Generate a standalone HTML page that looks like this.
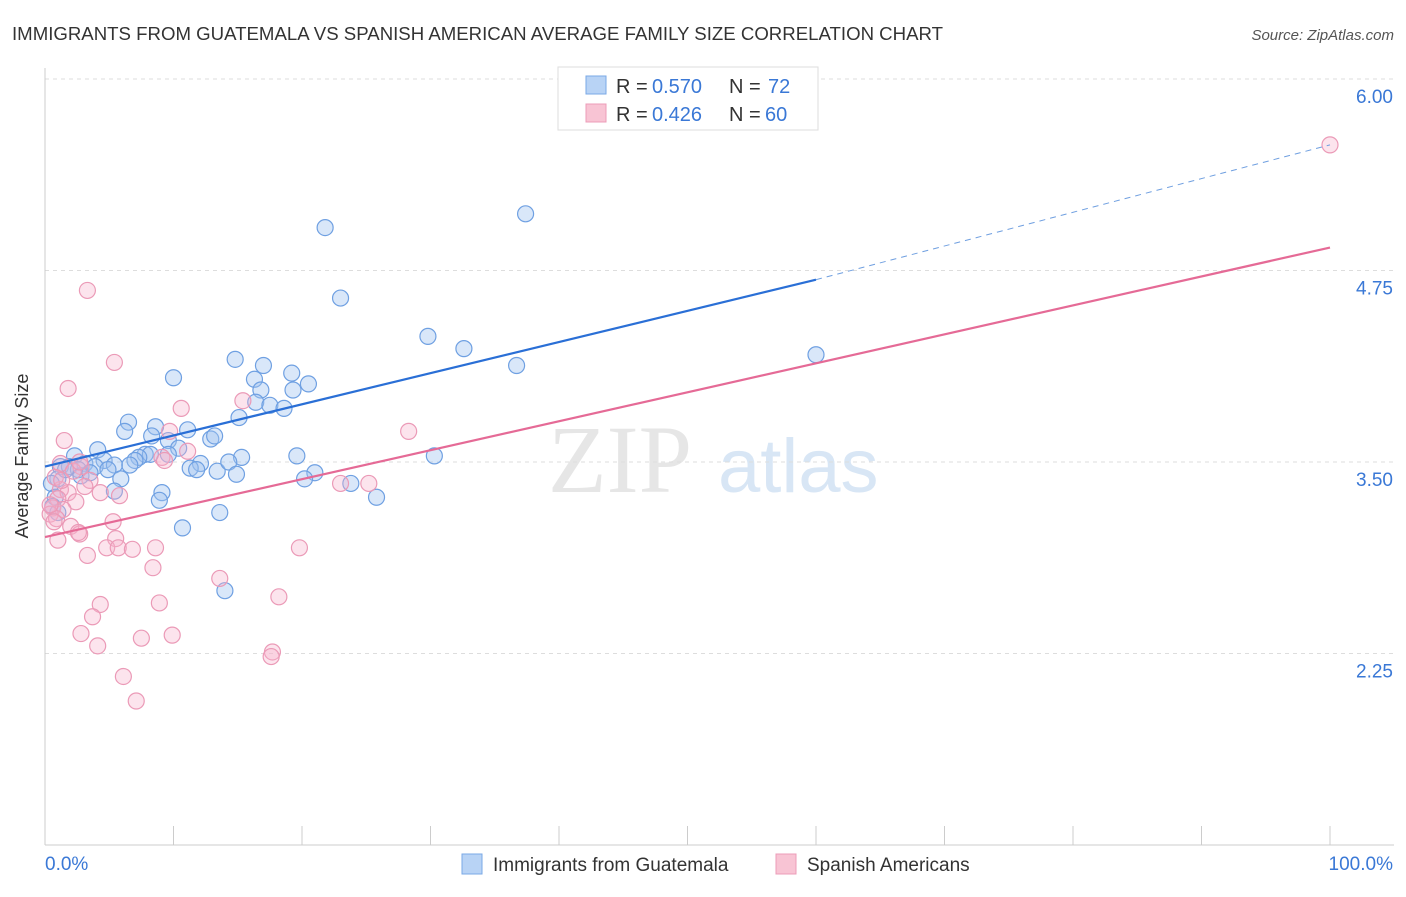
<!DOCTYPE html>
<html><head><meta charset="utf-8"><style>
body{margin:0;background:#fff;font-family:"Liberation Sans",sans-serif;}
svg text{font-family:"Liberation Sans",sans-serif;}
</style></head><body>
<svg id="chart" width="1406" height="892" xmlns="http://www.w3.org/2000/svg">
<text x="12" y="40" font-size="18" fill="#333" textLength="931" lengthAdjust="spacingAndGlyphs">IMMIGRANTS FROM GUATEMALA VS SPANISH AMERICAN AVERAGE FAMILY SIZE CORRELATION CHART</text>
<text x="1394" y="40" font-size="15" fill="#555" font-style="italic" text-anchor="end">Source: ZipAtlas.com</text>
<text x="692" y="492" font-size="96" fill="#e6e6e6" text-anchor="end" style="font-family:'Liberation Serif',serif">ZIP</text>
<text x="718" y="492" font-size="76" fill="#d8e6f5">atlas</text>
<g id="grid"></g>
<g id="axes"></g>
<g id="pts"></g>
<g id="trend"></g>
<text x="28" y="456" font-size="18" fill="#333" text-anchor="middle" transform="rotate(-90 28 456)">Average Family Size</text>
<g>
<rect x="558" y="67" width="260" height="63" fill="#fff" stroke="#ddd"/>
<rect x="586" y="76" width="20" height="18" fill="#b8d3f5" stroke="#7aa8e6"/>
<rect x="586" y="104" width="20" height="18" fill="#f8c4d4" stroke="#ec9cb8"/>
<text x="616" y="93" font-size="20" fill="#333">R =</text>
<text x="652" y="93" font-size="20" fill="#3a78d6">0.570</text>
<text x="729" y="93" font-size="20" fill="#333">N =</text>
<text x="768" y="93" font-size="20" fill="#3a78d6">72</text>
<text x="616" y="121" font-size="20" fill="#333">R =</text>
<text x="652" y="121" font-size="20" fill="#3a78d6">0.426</text>
<text x="729" y="121" font-size="20" fill="#333">N =</text>
<text x="765" y="121" font-size="20" fill="#3a78d6">60</text>
</g>
<g>
<rect x="462" y="854" width="20" height="20" fill="#b8d3f5" stroke="#7aa8e6"/>
<text x="493" y="871" font-size="19" fill="#333">Immigrants from Guatemala</text>
<rect x="776" y="854" width="20" height="20" fill="#f8c4d4" stroke="#ec9cb8"/>
<text x="807" y="871" font-size="19" fill="#333">Spanish Americans</text>
</g>
</svg>
<script>
const yTicks=[6.00,4.75,3.50,2.25];
const yTickLabels=["6.00","4.75","3.50","2.25"];
const xTickLabels=["0.0%","100.0%"];
const blueX=[37.4,21.8,23.0,29.8,32.6,36.7,60.0,14.8,17.0,10.0,16.3,19.2,16.8,19.3,20.5,16.4,17.5,18.6,15.1,6.5,8.6,6.2,11.1,8.3,12.9,13.2,9.6,4.1,10.4,19.6,30.3,2.3,4.6,7.8,8.2,7.3,9.6,7.0,15.3,12.1,5.4,3.1,1.2,1.9,2.6,3.9,6.6,11.3,11.8,13.4,14.3,14.9,21.0,20.2,23.8,25.8,2.8,4.9,5.9,1.0,0.5,9.1,8.9,5.4,0.8,0.6,10.7,13.6,14.0,1.6,3.5,1.0];
const blueY=[5.12,5.03,4.57,4.32,4.24,4.13,4.20,4.17,4.13,4.05,4.04,4.08,3.97,3.97,4.01,3.89,3.87,3.85,3.79,3.76,3.73,3.70,3.71,3.67,3.65,3.67,3.64,3.58,3.59,3.54,3.54,3.54,3.51,3.55,3.55,3.53,3.55,3.51,3.53,3.49,3.48,3.49,3.47,3.47,3.45,3.47,3.48,3.46,3.45,3.44,3.50,3.42,3.43,3.39,3.36,3.27,3.41,3.45,3.39,3.39,3.36,3.30,3.25,3.31,3.27,3.21,3.07,3.17,2.66,3.45,3.43,3.17];
const pinkX=[100,3.3,5.4,1.8,10.6,15.4,28.3,1.5,9.7,11.1,9.1,9.3,1.2,2.8,2.2,3.5,3.1,1.2,1.8,4.3,5.8,1.0,2.4,0.6,1.4,0.4,0.9,0.7,2.0,2.7,2.6,5.3,1.0,5.5,3.3,4.8,5.7,6.8,8.6,19.8,8.4,13.6,4.3,8.9,18.2,3.7,2.8,7.5,9.9,4.1,17.7,17.6,6.1,7.1,25.2,23.0,2.7,0.8,0.4,1.3];
const pinkY=[5.57,4.62,4.15,3.98,3.85,3.90,3.70,3.64,3.70,3.57,3.53,3.51,3.49,3.47,3.44,3.38,3.34,3.32,3.30,3.30,3.28,3.26,3.24,3.20,3.19,3.16,3.13,3.11,3.08,3.03,3.04,3.11,2.99,3.00,2.89,2.94,2.94,2.93,2.94,2.94,2.81,2.74,2.57,2.58,2.62,2.49,2.38,2.35,2.37,2.30,2.26,2.23,2.10,1.94,3.36,3.36,3.50,3.40,3.22,3.38];
const blueTrend=[[0,3.47],[60,4.69],[100,5.57]];
const pinkTrend=[[0,3.01],[100,4.90]];

const NS="http://www.w3.org/2000/svg";
const X=p=>45+p*12.85;
const Y=v=>79+(6-v)*153.2;
function mk(tag,attrs,parent){const e=document.createElementNS(NS,tag);for(const k in attrs)e.setAttribute(k,attrs[k]);parent.appendChild(e);return e;}
const grid=document.getElementById('grid'),axes=document.getElementById('axes'),pts=document.getElementById('pts'),trend=document.getElementById('trend');
yTicks.forEach((t,i)=>{
 const l=mk('line',{x1:45,x2:1394,y1:Y(t),y2:Y(t),stroke:'#ddd','stroke-dasharray':'4,4'},grid);
 
 
 const tx=mk('text',{x:1393,y:Y(t)+24,'font-size':19,fill:'#3a78d6','text-anchor':'end'},axes);
 tx.textContent=yTickLabels[i];
 
 
});
const ax=mk('line',{x1:45,x2:1394,y1:845,y2:845,stroke:'#ccc'},axes);


const ay=mk('line',{x1:45,x2:45,y1:68,y2:845,stroke:'#ccc'},axes);


for(let i=0;i<=10;i++){
 const t=mk('line',{x1:X(i*10),x2:X(i*10),y1:826,y2:845,stroke:'#ccc'},axes);
 
 
}
[[0,'start',45],[1,'end',1393]].forEach(([i,a,x])=>{
 const t=mk('text',{x:x,y:870,'font-size':19,fill:'#3a78d6','text-anchor':a},axes);
 t.textContent=xTickLabels[i];
 
 
});
function dots(xs,ys,fill,stroke,name){
 xs.forEach((x,i)=>{
  const c=mk('circle',{cx:X(x),cy:Y(ys[i]),r:8,fill:fill,stroke:stroke,'stroke-width':1.2},pts);
  
  
 });
}
dots(blueX,blueY,'rgba(160,196,240,0.4)','#6fa0e2','guatemala-point');
dots(pinkX,pinkY,'rgba(246,178,202,0.35)','#eb9ab7','spanish-point');
const b1=mk('line',{x1:X(blueTrend[0][0]),y1:Y(blueTrend[0][1]),x2:X(blueTrend[1][0]),y2:Y(blueTrend[1][1]),stroke:'#2a6fd6','stroke-width':2.2},trend);


const b2=mk('line',{x1:X(blueTrend[1][0]),y1:Y(blueTrend[1][1]),x2:X(blueTrend[2][0]),y2:Y(blueTrend[2][1]),stroke:'#6f9fe0','stroke-width':1,'stroke-dasharray':'6,5'},trend);


const p1=mk('line',{x1:X(pinkTrend[0][0]),y1:Y(pinkTrend[0][1]),x2:X(pinkTrend[1][0]),y2:Y(pinkTrend[1][1]),stroke:'#e56a96','stroke-width':2.2},trend);


</script>
</body></html>
